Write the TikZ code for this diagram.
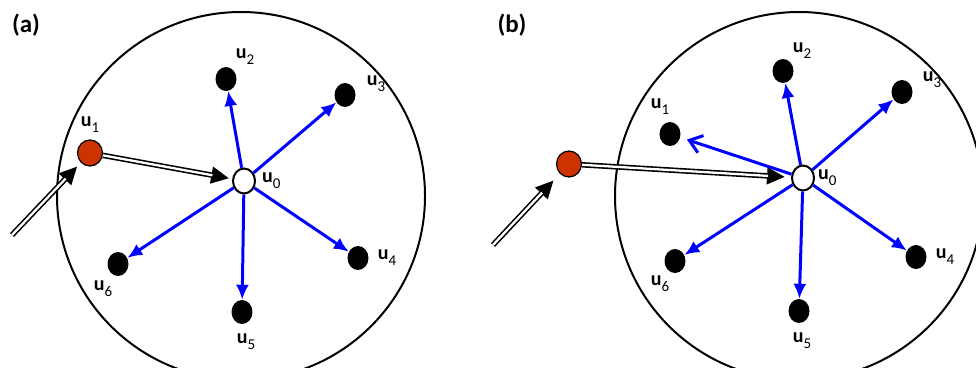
\documentclass[tikz,border=0pt]{standalone}
\usepackage{fontspec}
\setsansfont{Carlito}
\usetikzlibrary{positioning, arrows.meta, shapes.geometric}

\definecolor{sourcered}{RGB}{204,51,0}
\definecolor{pushblue}{RGB}{0,0,255}

\newcommand{\unode}[1]{\textbf{u}\raisebox{-0.3em}{\fontsize{15}{15}\selectfont #1}}

\begin{document}
\begin{tikzpicture}[
    x=1pt, y=-1pt,
    font=\sffamily,
    peer/.style={
      ellipse,
      fill=black,
      minimum width=21pt,
      minimum height=24pt,
      inner sep=0pt
    },
    hub/.style={
      ellipse,
      draw=black,
      fill=white,
      line width=2pt,
      minimum width=22pt,
      minimum height=25pt,
      inner sep=0pt
    },
    source/.style={
      ellipse,
      draw=black,
      fill=sourcered,
      line width=1.2pt,
      minimum width=25pt,
      minimum height=26pt,
      inner sep=0pt
    },
    reach zone/.style={
      circle,
      draw=black,
      line width=2pt,
      minimum size=368pt
    },
    tag/.style={inner sep=0pt, font=\sffamily\fontsize{20}{20}\selectfont},
    panel/.style={inner sep=0pt, font=\sffamily\bfseries\fontsize{25}{25}\selectfont},
    push arrow/.style={
      -{Latex[length=15pt,width=13pt]},
      line width=3pt,
      draw=pushblue
    },
    feed arrow/.style={
      -{Triangle[length=18pt,width=16pt]},
      line width=5.5pt,
      draw=black,
      shorten >=#1,
      postaction={draw=white, line width=2.3pt, -, shorten >=#1+17pt}
    }
  ]

    \useasboundingbox (0,0) rectangle (976,367);

    % (a)
    \node[panel] (tag a) at (26,25) {(a)};
    \node[reach zone] (zone a) at (241,196) {};

    \node[hub] (ua0) at (244,181) {};
    \node[source] (ua1) at (90,153) {};
    \node[peer] (ua2) at (226,79) {};
    \node[peer] (ua3) at (345,95) {};
    \node[peer] (ua4) at (358,258) {};
    \node[peer] (ua5) at (242,312) {};
    \node[peer] (ua6) at (118,264) {};
    \coordinate (in a) at (12,235);

    \node[tag, right=6pt of ua0] {\unode{0}};
    \node[tag, above=7pt of ua1] {\unode{1}};
    \node[tag, above=2pt of ua2, xshift=19pt] {\unode{2}};
    \node[tag, right=11pt of ua3, yshift=11pt] {\unode{3}};
    \node[tag, right=9pt of ua4] {\unode{4}};
    \node[tag, below=9pt of ua5, xshift=4pt] {\unode{5}};
    \node[tag, below=4pt of ua6, xshift=-15pt] {\unode{6}};

    \draw[feed arrow=5pt] (in a) -- (ua1);
    \draw[feed arrow=3pt] (ua1) -- (ua0);
    \foreach \p in {2,...,6}
      \draw[push arrow] (ua0) -- (ua\p);

    % (b)
    \node[panel] (tag b) at (512,25) {(b)};
    \node[reach zone] (zone b) at (799,196) {};

    \node[hub] (ub0) at (803,178) {};
    \node[source] (src b) at (569,164) {};
    \node[peer] (ub1) at (670,134) {};
    \node[peer] (ub2) at (783,71) {};
    \node[peer] (ub3) at (902,92) {};
    \node[peer] (ub4) at (916,257) {};
    \node[peer] (ub5) at (799,311) {};
    \node[peer] (ub6) at (675,261) {};
    \coordinate (in b) at (493,245);

    \node[tag, right=3pt of ub0] {\unode{0}};
    \node[tag, above=7pt of ub1, xshift=-10pt] {\unode{1}};
    \node[tag, above=0pt of ub2, xshift=19pt] {\unode{2}};
    \node[tag, right=10pt of ub3, yshift=12pt] {\unode{3}};
    \node[tag, right=9pt of ub4] {\unode{4}};
    \node[tag, below=9pt of ub5, xshift=3pt] {\unode{5}};
    \node[tag, below=2pt of ub6, xshift=-15pt] {\unode{6}};

    \draw[feed arrow=9pt] (in b) -- (src b);
    \draw[feed arrow=6pt] (src b) -- (ub0);
    \foreach \p in {2,...,6}
      \draw[push arrow] (ub0) -- (ub\p);
    \draw[push arrow, -{Straight Barb[length=12pt,width=18pt]}, shorten >=7pt] (ub0) -- (ub1);

\end{tikzpicture}
\end{document}
